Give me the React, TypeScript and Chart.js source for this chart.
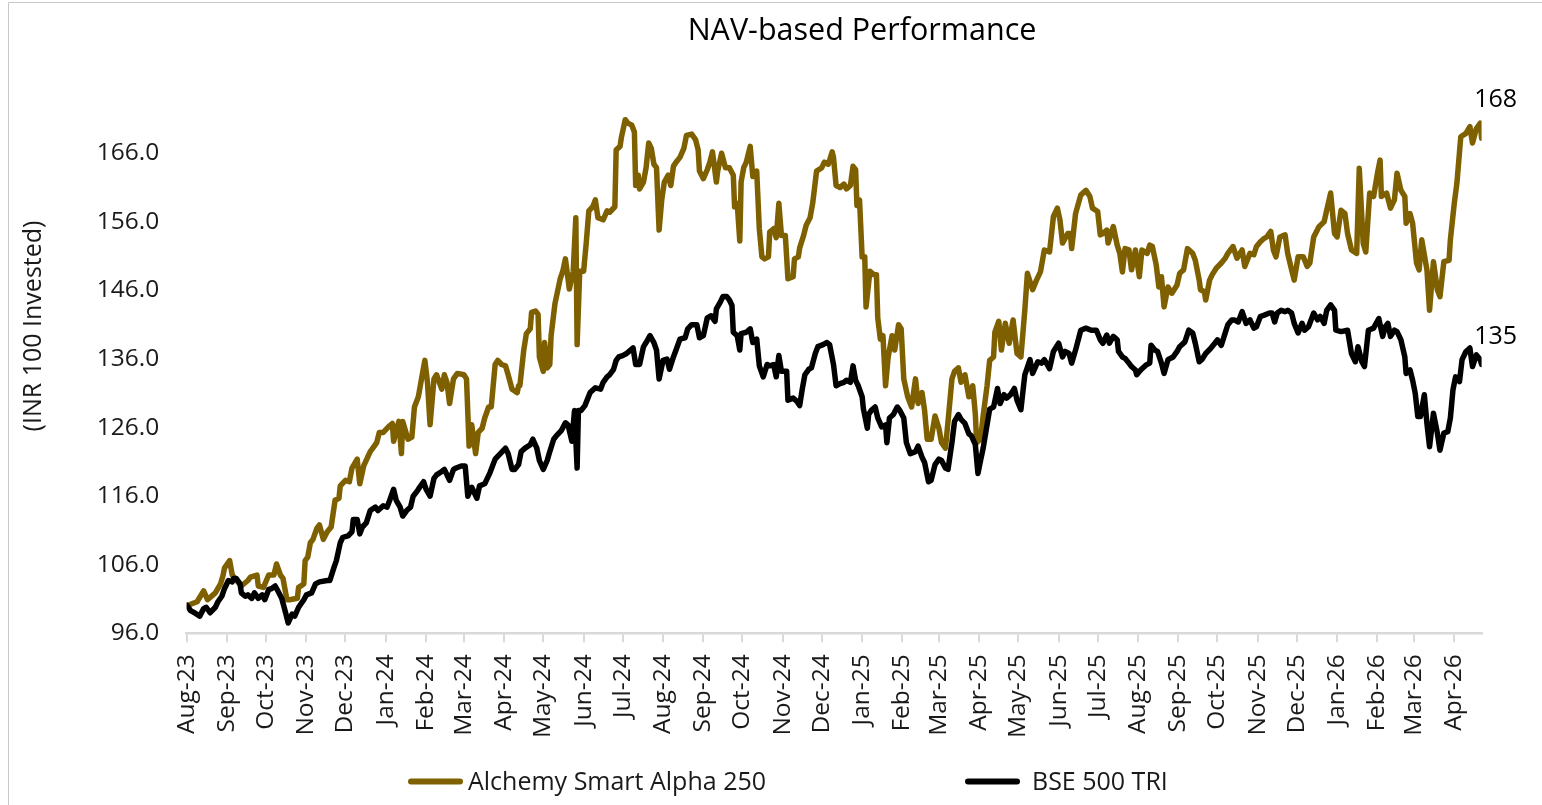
import React, { useEffect, useRef } from "react";
import { Chart, registerables } from "chart.js";

Chart.register(...registerables);

// ---------- text ----------
const chartTitle = "NAV-based Performance";
const yAxisTitle = "(INR 100 Invested)";
const seriesNames = ["Alchemy Smart Alpha 250", "BSE 500 TRI"];

// ---------- x axis: month tick labels (days counted from 1 Aug 2023) ----------
const monthLabels = [
  "Aug-23", "Sep-23", "Oct-23", "Nov-23", "Dec-23", "Jan-24", "Feb-24", "Mar-24", "Apr-24",
  "May-24", "Jun-24", "Jul-24", "Aug-24", "Sep-24", "Oct-24", "Nov-24", "Dec-24", "Jan-25",
  "Feb-25", "Mar-25", "Apr-25", "May-25", "Jun-25", "Jul-25", "Aug-25", "Sep-25", "Oct-25",
  "Nov-25", "Dec-25", "Jan-26", "Feb-26", "Mar-26", "Apr-26",
];
const xMaxDay = 995;

// ---------- y axis ----------
const yTickValues = [96, 106, 116, 126, 136, 146, 156, 166];
const yMin = 96;
const yMax = 176;

// ---------- Alchemy Smart Alpha 250 ----------
const goldDay = [
  0, 4, 8, 13, 16, 22, 26, 28, 29, 33,
  35, 37, 42, 47, 49, 54, 55, 59, 63, 67,
  69, 72, 74, 77, 79, 85, 86, 90, 91, 93,
  95, 97, 100, 102, 105, 108, 111, 114, 117, 118,
  122, 125, 127, 131, 133, 136, 141, 143, 146, 148,
  151, 155, 158, 159, 163, 165, 166, 170, 173, 175,
  178, 181, 183, 185, 187, 190, 192, 196, 198, 200,
  202, 205, 208, 213, 215, 217, 219, 222, 224, 227,
  229, 232, 234, 237, 239, 242, 245, 247, 250, 254,
  255, 256, 259, 261, 264, 265, 268, 270, 271, 274,
  275, 277, 279, 280, 283, 287, 289, 291, 293, 294,
  297, 299, 300, 302, 305, 307, 309, 312, 314, 316,
  320, 323, 325, 329, 330, 333, 334, 337, 339, 342,
  344, 345, 347, 348, 351, 353, 355, 357, 359, 361,
  363, 365, 367, 370, 372, 374, 376, 379, 382, 384,
  388, 391, 393, 394, 397, 400, 402, 404, 407, 408,
  411, 414, 417, 420, 421, 423, 425, 426, 428, 430,
  433, 435, 438, 440, 442, 444, 447, 448, 451, 453,
  455, 457, 460, 462, 466, 467, 470, 471, 474, 476,
  479, 481, 484, 488, 490, 493, 496, 497, 499, 502,
  505, 507, 510, 512, 514, 515, 517, 519, 521, 522,
  525, 528, 530, 531, 533, 535, 537, 539, 542, 544,
  547, 549, 551, 554, 557, 560, 562, 565, 567, 569,
  572, 575, 578, 580, 583, 585, 588, 590, 593, 595,
  598, 601, 604, 606, 607, 610, 612, 615, 617, 620,
  621, 624, 626, 629, 632, 635, 638, 641, 644, 646,
  650, 653, 656, 659, 663, 666, 669, 671, 673, 677,
  679, 680, 683, 687, 691, 694, 696, 700, 702, 704,
  707, 708, 712, 715, 717, 719, 721, 724, 726, 729,
  732, 734, 738, 740, 742, 745, 747, 749, 751, 754,
  757, 761, 763, 766, 769, 773, 775, 778, 779, 782,
  783, 786, 788, 791, 795, 798, 800, 804, 807, 811,
  813, 817, 820, 822, 825, 828, 830, 833, 835, 837,
  840, 844, 846, 849, 851, 854, 858, 861, 863, 866,
  870, 874, 876, 879, 882, 884, 887, 890, 892, 895,
  899, 901, 904, 906, 909, 912, 915, 917, 918, 922,
  925, 928, 930, 933, 936, 937, 940, 942, 945, 947,
  949, 953, 955, 958, 961, 963, 966, 970, 971, 974,
  976, 979, 983, 986, 988, 991, 994, 995,
];
const goldNav = [
  100.0, 100.3, 100.6, 102.2, 100.9, 101.9, 103.2, 104.5, 105.5, 106.6,
  104.5, 104.0, 102.9, 103.7, 104.2, 104.5, 102.9, 102.7, 104.5, 104.5,
  106.1, 104.5, 104.0, 100.9, 100.9, 101.1, 102.7, 103.2, 106.6, 107.1,
  109.2, 109.7, 111.3, 111.8, 109.7, 110.8, 111.5, 115.4, 115.7, 117.5,
  118.3, 118.1, 120.1, 121.4, 117.8, 120.4, 122.5, 123.0, 123.8, 125.3,
  125.3, 126.1, 126.6, 124.0, 126.9, 122.2, 126.9, 124.3, 124.6, 129.0,
  130.5, 133.7, 135.8, 132.6, 126.4, 133.1, 133.7, 131.6, 133.7, 132.6,
  129.5, 133.1, 133.9, 133.7, 133.1, 123.3, 126.4, 122.2, 125.3, 125.9,
  127.4, 129.0, 129.0, 135.2, 135.8, 135.2, 135.0, 133.7, 131.6, 131.1,
  132.1, 132.1, 137.3, 139.7, 140.4, 142.8, 143.0, 142.5, 136.3, 134.2,
  138.4, 134.7, 135.2, 139.4, 144.1, 147.7, 148.8, 150.6, 147.7, 146.2,
  148.8, 156.6, 138.1, 148.8, 148.8, 152.9, 157.6, 158.2, 159.2, 156.6,
  156.3, 157.6, 157.4, 158.2, 166.5, 167.0, 168.3, 170.9, 170.4, 170.1,
  169.1, 161.3, 162.8, 160.8, 161.8, 163.9, 167.5, 166.7, 164.4, 163.9,
  154.8, 159.2, 161.8, 162.8, 161.3, 164.1, 164.7, 165.4, 166.7, 168.6,
  168.8, 168.0, 166.5, 163.4, 162.3, 163.6, 164.7, 166.2, 161.8, 163.4,
  166.0, 163.9, 163.9, 162.8, 158.2, 158.7, 153.2, 161.8, 163.9, 164.7,
  167.0, 162.6, 163.4, 155.0, 150.9, 150.6, 150.9, 154.5, 155.0, 153.7,
  158.7, 154.0, 154.0, 147.7, 148.0, 150.6, 150.9, 152.2, 154.0, 155.5,
  156.6, 158.7, 163.4, 163.9, 164.7, 164.4, 166.2, 165.4, 161.3, 161.0,
  161.5, 160.8, 161.3, 164.1, 163.6, 158.4, 159.2, 150.9, 150.9, 143.6,
  148.8, 148.3, 148.3, 142.0, 138.9, 139.4, 132.1, 136.3, 139.4, 137.3,
  141.0, 140.4, 133.1, 130.5, 129.0, 133.1, 129.5, 131.1, 128.5, 124.3,
  124.3, 127.7, 125.9, 123.8, 123.0, 126.9, 133.1, 134.2, 134.7, 132.6,
  133.7, 130.5, 132.1, 127.9, 123.8, 124.3, 127.7, 132.1, 135.8, 136.3,
  139.9, 141.5, 137.3, 141.2, 138.3, 141.7, 136.8, 136.3, 143.1, 148.5,
  146.1, 147.5, 148.7, 151.9, 151.6, 156.8, 158.0, 156.3, 152.9, 154.3,
  154.3, 152.1, 157.2, 159.9, 160.6, 159.7, 158.0, 157.5, 154.1, 154.3,
  154.8, 152.9, 155.3, 152.6, 151.4, 148.7, 152.1, 151.9, 149.0, 151.9,
  148.0, 151.9, 151.4, 152.6, 152.4, 149.7, 146.5, 148.0, 143.6, 146.5,
  145.6, 146.8, 148.5, 149.0, 152.1, 151.4, 150.4, 147.5, 146.1, 145.8,
  144.6, 147.5, 148.3, 149.2, 150.0, 150.7, 151.4, 152.4, 150.7, 151.9,
  149.5, 151.4, 151.2, 152.4, 153.1, 153.6, 153.8, 154.6, 151.9, 150.9,
  153.8, 154.1, 151.4, 149.0, 147.5, 150.9, 150.9, 149.5, 150.0, 153.8,
  155.3, 156.0, 157.7, 160.2, 154.3, 153.8, 157.7, 157.2, 154.3, 151.9,
  151.4, 163.8, 152.9, 151.6, 160.2, 159.7, 163.1, 165.0, 159.7, 160.2,
  158.0, 159.2, 163.1, 160.6, 159.7, 155.8, 157.2, 155.8, 150.0, 149.0,
  153.4, 149.0, 143.1, 150.2, 146.1, 145.1, 150.2, 150.4, 153.4, 158.7,
  161.6, 168.4, 168.9, 169.9, 167.5, 169.6, 170.4, 168.2,
];

// ---------- BSE 500 TRI ----------
const bseDay = [
  0, 3, 6, 10, 13, 15, 18, 22, 24, 27,
  29, 32, 35, 36, 38, 41, 42, 45, 47, 50,
  52, 55, 58, 60, 63, 65, 68, 70, 73, 76,
  78, 81, 83, 86, 90, 92, 96, 99, 102, 108,
  110, 113, 115, 118, 120, 124, 127, 128, 131, 133,
  135, 138, 141, 145, 147, 151, 154, 156, 159, 161,
  164, 166, 169, 172, 174, 177, 179, 182, 184, 187,
  190, 192, 196, 198, 202, 205, 207, 211, 214, 216,
  219, 223, 225, 229, 233, 237, 241, 245, 247, 250,
  252, 255, 257, 260, 264, 266, 269, 271, 274, 277,
  279, 282, 284, 288, 291, 293, 296, 298, 300, 301,
  303, 306, 310, 314, 318, 320, 323, 325, 328, 330,
  332, 335, 338, 341, 343, 345, 348, 351, 353, 356,
  359, 361, 363, 366, 369, 371, 374, 376, 379, 383,
  385, 388, 392, 394, 397, 400, 403, 406, 407, 410,
  412, 415, 417, 419, 420, 423, 425, 426, 430, 433,
  435, 438, 440, 443, 446, 448, 451, 453, 455, 457,
  461, 462, 466, 469, 471, 473, 475, 478, 480, 483,
  485, 489, 492, 494, 497, 499, 502, 505, 507, 510,
  512, 514, 516, 519, 520, 523, 524, 526, 529, 531,
  534, 537, 538, 540, 543, 546, 548, 551, 553, 556,
  560, 562, 565, 567, 570, 572, 575, 578, 580, 583,
  585, 588, 590, 593, 595, 598, 601, 603, 606, 608,
  610, 612, 615, 617, 620, 623, 625, 628, 630, 633,
  636, 638, 641, 644, 648, 650, 654, 657, 659, 663,
  666, 670, 673, 675, 678, 680, 683, 687, 691, 695,
  699, 702, 704, 707, 709, 712, 715, 716, 719, 721,
  724, 726, 729, 730, 733, 737, 740, 741, 744, 746,
  749, 751, 754, 758, 761, 763, 767, 770, 773, 775,
  778, 780, 783, 787, 790, 792, 795, 798, 800, 803,
  805, 808, 811, 814, 817, 820, 822, 825, 828, 832,
  834, 836, 838, 841, 844, 846, 849, 851, 854, 857,
  859, 862, 866, 869, 871, 874, 876, 879, 882, 883,
  887, 892, 895, 898, 900, 903, 905, 908, 912, 916,
  919, 921, 923, 925, 928, 930, 933, 936, 937, 940,
  942, 944, 946, 948, 951, 953, 955, 958, 961, 963,
  966, 969, 971, 973, 975, 978, 980, 983, 986, 988,
  991, 994, 995,
];
const bseNav = [
  100.1, 99.3, 99.0, 98.5, 99.6, 99.8, 99.0, 99.8, 100.6, 101.4,
  102.5, 103.7, 103.5, 104.0, 104.0, 103.2, 101.9, 101.4, 101.6, 101.1,
  101.9, 101.1, 101.6, 100.9, 102.4, 102.5, 102.9, 102.2, 101.1, 99.0,
  97.5, 98.8, 98.5, 99.8, 100.9, 101.6, 101.9, 103.2, 103.5, 103.7,
  103.7, 105.5, 106.6, 109.2, 110.0, 110.2, 110.8, 112.6, 112.6, 110.5,
  111.5, 112.1, 113.9, 114.4, 113.9, 114.6, 114.4, 115.4, 117.0, 115.4,
  114.4, 113.1, 113.9, 114.4, 116.0, 116.7, 117.3, 118.1, 117.0, 116.0,
  118.6, 119.1, 119.6, 119.9, 118.3, 119.9, 120.1, 120.4, 120.4, 116.0,
  117.3, 115.7, 117.5, 117.8, 119.4, 121.4, 122.2, 123.0, 122.2, 119.9,
  119.9, 120.6, 122.5, 123.0, 123.5, 124.3, 123.0, 121.2, 119.9, 121.2,
  122.5, 124.3, 124.8, 125.6, 126.7, 126.4, 124.0, 128.5, 120.1, 128.5,
  128.5, 129.2, 131.1, 131.8, 131.6, 132.6, 133.4, 133.7, 134.5, 135.8,
  136.3, 136.5, 136.8, 137.3, 137.6, 135.2, 135.2, 137.8, 138.4, 139.4,
  138.4, 137.3, 133.1, 135.8, 136.0, 134.5, 136.3, 137.3, 138.9, 139.1,
  140.4, 141.0, 141.0, 139.1, 139.4, 142.0, 142.3, 141.5, 143.3, 144.3,
  145.1, 145.1, 144.6, 143.8, 139.9, 139.4, 137.3, 139.7, 139.9, 140.4,
  138.4, 138.9, 135.0, 133.4, 135.2, 135.0, 135.2, 133.4, 136.5, 134.2,
  134.2, 130.0, 130.3, 129.8, 129.2, 131.6, 133.7, 134.5, 134.7, 136.8,
  137.8, 138.1, 138.4, 138.1, 135.2, 132.1, 132.4, 132.6, 132.9, 132.6,
  135.0, 132.9, 132.1, 130.5, 128.7, 125.9, 127.9, 128.5, 129.0, 127.4,
  126.1, 126.4, 123.8, 127.4, 127.9, 129.0, 128.5, 127.4, 123.8, 122.2,
  122.5, 123.3, 121.7, 120.9, 118.1, 118.3, 120.6, 121.4, 121.2, 120.1,
  119.9, 123.8, 126.9, 127.9, 127.2, 126.6, 125.1, 124.8, 123.5, 119.3,
  121.2, 123.0, 126.4, 128.7, 129.0, 131.7, 129.5, 130.8, 130.3, 130.8,
  131.7, 130.0, 128.6, 133.7, 135.9, 133.9, 135.6, 135.4, 135.9, 134.6,
  137.1, 138.3, 136.3, 137.1, 136.8, 135.4, 137.3, 140.2, 140.5, 140.2,
  140.2, 138.8, 138.3, 139.5, 138.3, 139.3, 138.8, 137.1, 136.3, 136.1,
  135.4, 134.9, 134.4, 133.7, 134.4, 135.1, 135.4, 138.0, 137.3, 137.1,
  135.4, 133.9, 135.9, 136.3, 137.1, 137.8, 138.5, 140.2, 139.8, 138.3,
  135.6, 135.9, 136.8, 137.6, 138.3, 138.8, 138.0, 139.8, 141.0, 141.7,
  141.7, 141.4, 142.9, 141.2, 141.7, 140.5, 140.7, 142.2, 142.4, 142.7,
  142.7, 141.4, 142.7, 143.1, 142.9, 143.1, 142.7, 141.2, 139.8, 141.2,
  140.2, 140.7, 142.7, 141.7, 142.2, 141.2, 143.1, 143.9, 143.1, 140.2,
  140.0, 140.2, 136.8, 135.6, 137.8, 135.6, 134.9, 140.2, 140.5, 141.9,
  139.3, 140.7, 141.2, 139.3, 140.2, 140.0, 138.8, 136.3, 133.9, 134.4,
  132.9, 131.0, 127.6, 127.6, 130.8, 126.6, 123.2, 128.1, 125.2, 122.7,
  125.2, 125.4, 127.4, 131.5, 133.4, 132.7, 135.9, 137.1, 137.6, 134.9,
  136.6, 135.9, 135.2,
];

// ---------- styling ----------
const GOLD = "#7f6000";
const BLACK = "#000000";
const TEXT = "#1a1a1a";
const AXIS = "#d9d9d9";
const FONT = '"Open Sans", "Noto Sans", sans-serif';

const MONTHS = ["Jan", "Feb", "Mar", "Apr", "May", "Jun", "Jul", "Aug", "Sep", "Oct", "Nov", "Dec"];
const START = Date.UTC(2023, 7, 1);
const monthTickDays = monthLabels.map((l) => {
  const [m, y] = l.split("-");
  return Math.round((Date.UTC(2000 + Number(y), MONTHS.indexOf(m), 1) - START) / 86400000);
});

function zip(days: number[], vals: number[]) {
  const n = Math.min(days.length, vals.length);
  const out: { x: number; y: number }[] = [];
  for (let i = 0; i < n; i++) out.push({ x: days[i], y: vals[i] });
  return out;
}

const decorPlugin = {
  id: "decor",
  afterDraw(chart: any) {
    const ctx: CanvasRenderingContext2D = chart.ctx;
    ctx.save();
    // outer frame (left and top edges visible)
    ctx.strokeStyle = "#c8c8c8";
    ctx.lineWidth = 1;
    ctx.beginPath();
    ctx.moveTo(8.5, 805);
    ctx.lineTo(8.5, 2.5);
    ctx.lineTo(1542, 2.5);
    ctx.stroke();

    // title
    ctx.fillStyle = "#000";
    ctx.font = `30.5px ${FONT}`;
    ctx.textAlign = "center";
    ctx.textBaseline = "alphabetic";
    ctx.fillText(chartTitle, 862, 40);

    // y axis title
    ctx.save();
    ctx.translate(34, 326);
    ctx.rotate(-Math.PI / 2);
    ctx.font = `25px ${FONT}`;
    ctx.fillStyle = TEXT;
    ctx.textAlign = "center";
    ctx.textBaseline = "middle";
    ctx.fillText(yAxisTitle, 0, 0);
    ctx.restore();

    // legend
    const legendItems = [
      { x0: 411, x1: 460, tx: 468, color: GOLD, text: seriesNames[0] },
      { x0: 968, x1: 1017, tx: 1032, color: BLACK, text: seriesNames[1] },
    ];
    ctx.font = `25px ${FONT}`;
    ctx.textAlign = "left";
    ctx.textBaseline = "alphabetic";
    legendItems.forEach((it) => {
      ctx.strokeStyle = it.color;
      ctx.lineWidth = 6;
      ctx.lineCap = "round";
      ctx.beginPath();
      ctx.moveTo(it.x0, 781.5);
      ctx.lineTo(it.x1, 781.5);
      ctx.stroke();
      ctx.fillStyle = TEXT;
      ctx.fillText(it.text, it.tx, 790);
    });

    // end-of-series value labels
    const offsets: Record<number, number> = { 0: -28, 1: -38 };
    chart.data.datasets.forEach((ds: any, i: number) => {
      const meta = chart.getDatasetMeta(i);
      const last = meta.data[meta.data.length - 1];
      const v = ds.data[ds.data.length - 1].y;
      ctx.font = `25px ${FONT}`;
      ctx.fillStyle = "#000";
      ctx.textAlign = "center";
      ctx.textBaseline = "middle";
      ctx.fillText(String(Math.round(v)), last.x + 14, last.y + offsets[i]);
    });
    ctx.restore();
  },
};

export default function App() {
  const canvasRef = useRef<HTMLCanvasElement | null>(null);

  useEffect(() => {
    let chart: Chart | null = null;
    let cancelled = false;
    const ready = (document as any).fonts
      ? Promise.all([
          (document as any).fonts.load(`25px "Open Sans"`),
          (document as any).fonts.load(`30px "Open Sans"`),
        ]).catch(() => null)
      : Promise.resolve(null);

    ready.then(() => {
      if (cancelled || !canvasRef.current) return;
      chart = new Chart(canvasRef.current, {
        type: "line",
        data: {
          datasets: [
            {
              label: seriesNames[1],
              data: zip(bseDay, bseNav),
              borderColor: BLACK,
              backgroundColor: BLACK,
              borderWidth: 5.5,
              pointRadius: 0,
              tension: 0,
              borderJoinStyle: "round",
              borderCapStyle: "round",
              order: 0,
            },
            {
              label: seriesNames[0],
              data: zip(goldDay, goldNav),
              borderColor: GOLD,
              backgroundColor: GOLD,
              borderWidth: 5.5,
              pointRadius: 0,
              tension: 0,
              borderJoinStyle: "round",
              borderCapStyle: "round",
              order: 1,
            },
          ],
        },
        options: {
          responsive: false,
          devicePixelRatio: 1,
          animation: false,
          events: [],
          layout: { padding: { left: 0, right: 60.4, top: 84.7, bottom: 0 } },
          plugins: {
            legend: { display: false },
            title: { display: false },
            tooltip: { enabled: false },
          },
          scales: {
            x: {
              type: "linear",
              min: 0,
              max: xMaxDay,
              afterBuildTicks: (scale: any) => {
                scale.ticks = monthTickDays.map((v) => ({ value: v }));
              },
              afterFit: (scale: any) => {
                scale.height = 805 - 633.3;
              },
              ticks: {
                autoSkip: false,
                minRotation: 90,
                maxRotation: 90,
                padding: 12,
                color: TEXT,
                font: { family: FONT, size: 24.5 },
                callback: (_v: any, i: number) => monthLabels[i],
              },
              grid: {
                drawOnChartArea: false,
                drawTicks: true,
                tickLength: 9,
                color: AXIS,
                lineWidth: 2,
              },
              border: { display: true, color: AXIS, width: 2.5 },
            },
            y: {
              type: "linear",
              min: yMin,
              max: yMax,
              afterBuildTicks: (scale: any) => {
                scale.ticks = yTickValues.map((v) => ({ value: v }));
              },
              afterFit: (scale: any) => {
                scale.width = 186.7;
              },
              ticks: {
                padding: 27.4,
                color: TEXT,
                font: { family: FONT, size: 24.5 },
                callback: (v: any) => Number(v).toFixed(1),
              },
              grid: { display: false, drawTicks: false },
              border: { display: false },
            },
          },
        } as any,
        plugins: [decorPlugin],
      });
    });

    return () => {
      cancelled = true;
      if (chart) chart.destroy();
    };
  }, []);

  return (
    <div style={{ position: "absolute", left: 0, top: 0, width: 1542, height: 805, background: "#fff" }}>
      <canvas ref={canvasRef} width={1542} height={805} style={{ display: "block", width: 1542, height: 805 }} />
    </div>
  );
}
